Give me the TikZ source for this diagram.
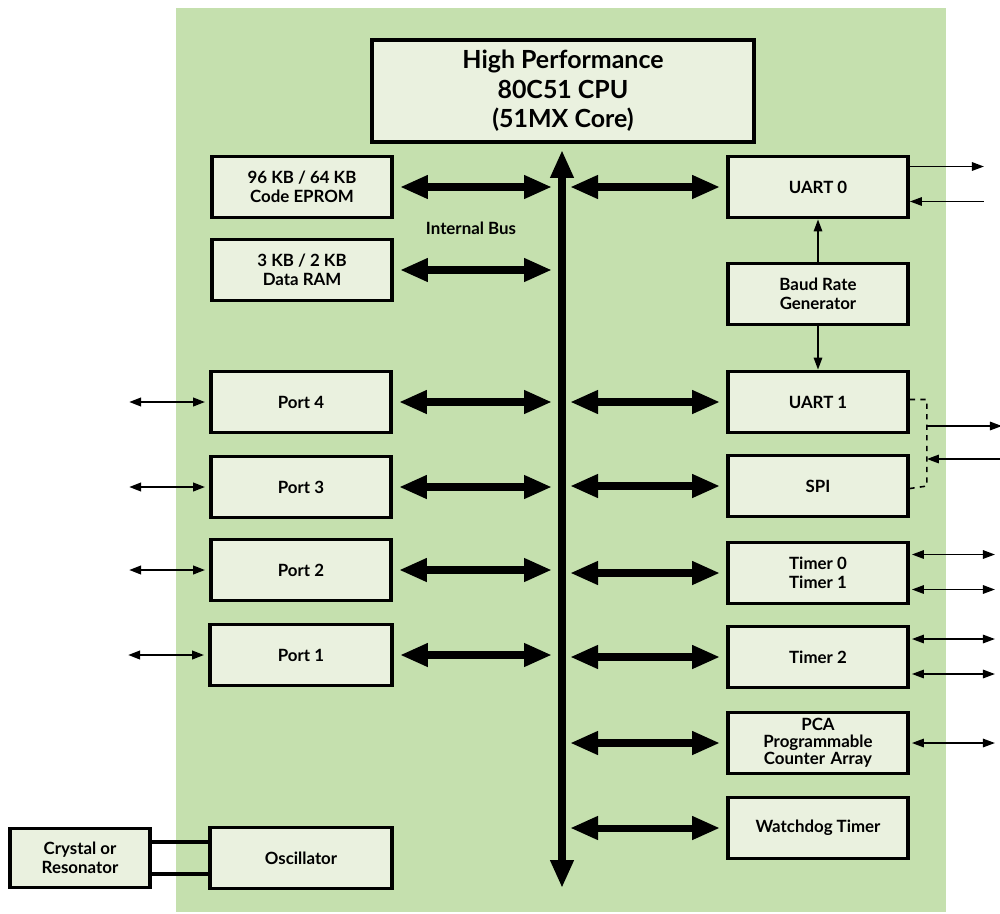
\documentclass[tikz,border=0pt]{standalone}
\usepackage{fontspec}
\setmainfont{Lato}
\usetikzlibrary{arrows.meta,positioning}
\definecolor{ChipGreen}{HTML}{C5E0AE}
\definecolor{BlockFill}{HTML}{EAF1DF}

\begin{document}
\begin{tikzpicture}[x=0.02cm,y=-0.02cm,
  block/.style={draw,fill=BlockFill,line width=2.2pt,minimum width=3.6cm,minimum height=1.22cm,
    inner sep=0pt,align=center,font=\bfseries\fontsize{9.6}{10.8}\selectfont},
  busarrow/.style={line width=4pt,{Triangle[length=0.56cm,width=0.44cm]}-{Triangle[length=0.56cm,width=0.44cm]}},
  sig/.style={line width=0.9pt,-{Triangle[length=0.24cm,width=0.17cm]}},
  bisig/.style={line width=0.9pt,{Triangle[length=0.24cm,width=0.17cm]}-{Triangle[length=0.24cm,width=0.17cm]}}]
  \useasboundingbox (0,0) rectangle (1000,913);
  \fill[ChipGreen] (176,8) rectangle (946,912);
  % core and bus
  \node[block,minimum width=7.64cm,minimum height=2.04cm,font=\bfseries\fontsize{14.2}{16.7}\selectfont] (cpu) at (563,91) {High Performance\\80C51 CPU\\(51MX Core)};
  \coordinate (bus) at (562,150);\coordinate (busend) at (562,888);
  \draw[busarrow] (bus) -- (busend);
  \node[font=\bfseries\fontsize{9.6}{10.8}\selectfont] (buslabel) at (471,228) {Internal Bus};
  % left side
  \node[block] (eprom) at (302,187) {96 KB / 64 KB\\Code EPROM};
  \node[block] (ram) at (302,270) {3 KB / 2 KB\\Data RAM};
  \node[block] (port4) at (301,402) {Port 4};
  \node[block] (port3) at (301,487) {Port 3};
  \node[block] (port2) at (301,570) {Port 2};
  \node[block,minimum width=3.64cm] (port1) at (301,655) {Port 1};
  \node[block,minimum width=3.64cm] (osc) at (301,858) {Oscillator};
  \node[block,minimum width=2.8cm,minimum height=1.18cm] (xtal) at (80,858) {Crystal or\\Resonator};
  % right side
  \node[block] (uart0) at (818,187) {UART 0};
  \node[block] (baud) at (818,294) {Baud Rate\\Generator};
  \node[block] (uart1) at (818,402) {UART 1};
  \node[block] (spi) at (818,486) {SPI};
  \node[block] (timer01) at (818,573) {Timer 0\\Timer 1};
  \node[block] (timer2) at (818,657) {Timer 2};
  \node[block,font=\bfseries\fontsize{9.6}{9.6}\selectfont] (pca) at (818,743) {PCA\\Programmable\\Counter\,\,Array};
  \node[block] (wdt) at (818,828) {Watchdog Timer};
  % bus connections
  \foreach \n in {eprom,ram,port4,port3,port2,port1}
    \draw[busarrow,shorten <=0.12cm,shorten >=0.2cm] (\n) -- (\n -| bus);
  \foreach \n in {uart0,uart1,spi,timer01,timer2,pca,wdt}
    \draw[busarrow,shorten <=0.16cm,shorten >=0.12cm] (\n -| bus) -- (\n);
  % port pins
  \foreach \n in {port4,port3,port2,port1}
    \draw[bisig,line width=1.3pt,shorten <=0.08cm] (\n.west) -- ++(-80,0);
  % crystal
  \draw[line width=2pt] ([yshift=0.32cm]xtal.east) -- ([yshift=0.32cm]osc.west);
  \draw[line width=2pt] ([yshift=-0.32cm]xtal.east) -- ([yshift=-0.32cm]osc.west);
  % serial
  \draw[sig] (baud) -- (uart0);
  \draw[sig] (baud) -- (uart1);
  \draw[sig] ([yshift=0.41cm]uart0.east) -- ++(74,0);
  \draw[sig] ([yshift=-0.29cm,xshift=1.48cm]uart0.east) -- ([yshift=-0.29cm]uart0.east);
  \draw[dashed,line width=0.9pt] ([yshift=0.05cm]uart1.east) -- ++(17,0) coordinate (brk)
    -- (brk |- spi.east) -- ([yshift=-0.05cm]spi.east);
  \draw[sig] (brk |- 0,426) -- ++(75,0);
  \draw[sig] ([xshift=1.5cm]brk |- 0,459) -- (brk |- 0,459);
  % timers and PCA
  \foreach \n/\d in {timer01/0.37cm,timer01/-0.33cm,timer2/0.36cm,timer2/-0.34cm,pca/0cm}
    \draw[bisig,shorten <=0.04cm] ([yshift=\d]\n.east) -- ++(85,0);
\end{tikzpicture}
\end{document}
